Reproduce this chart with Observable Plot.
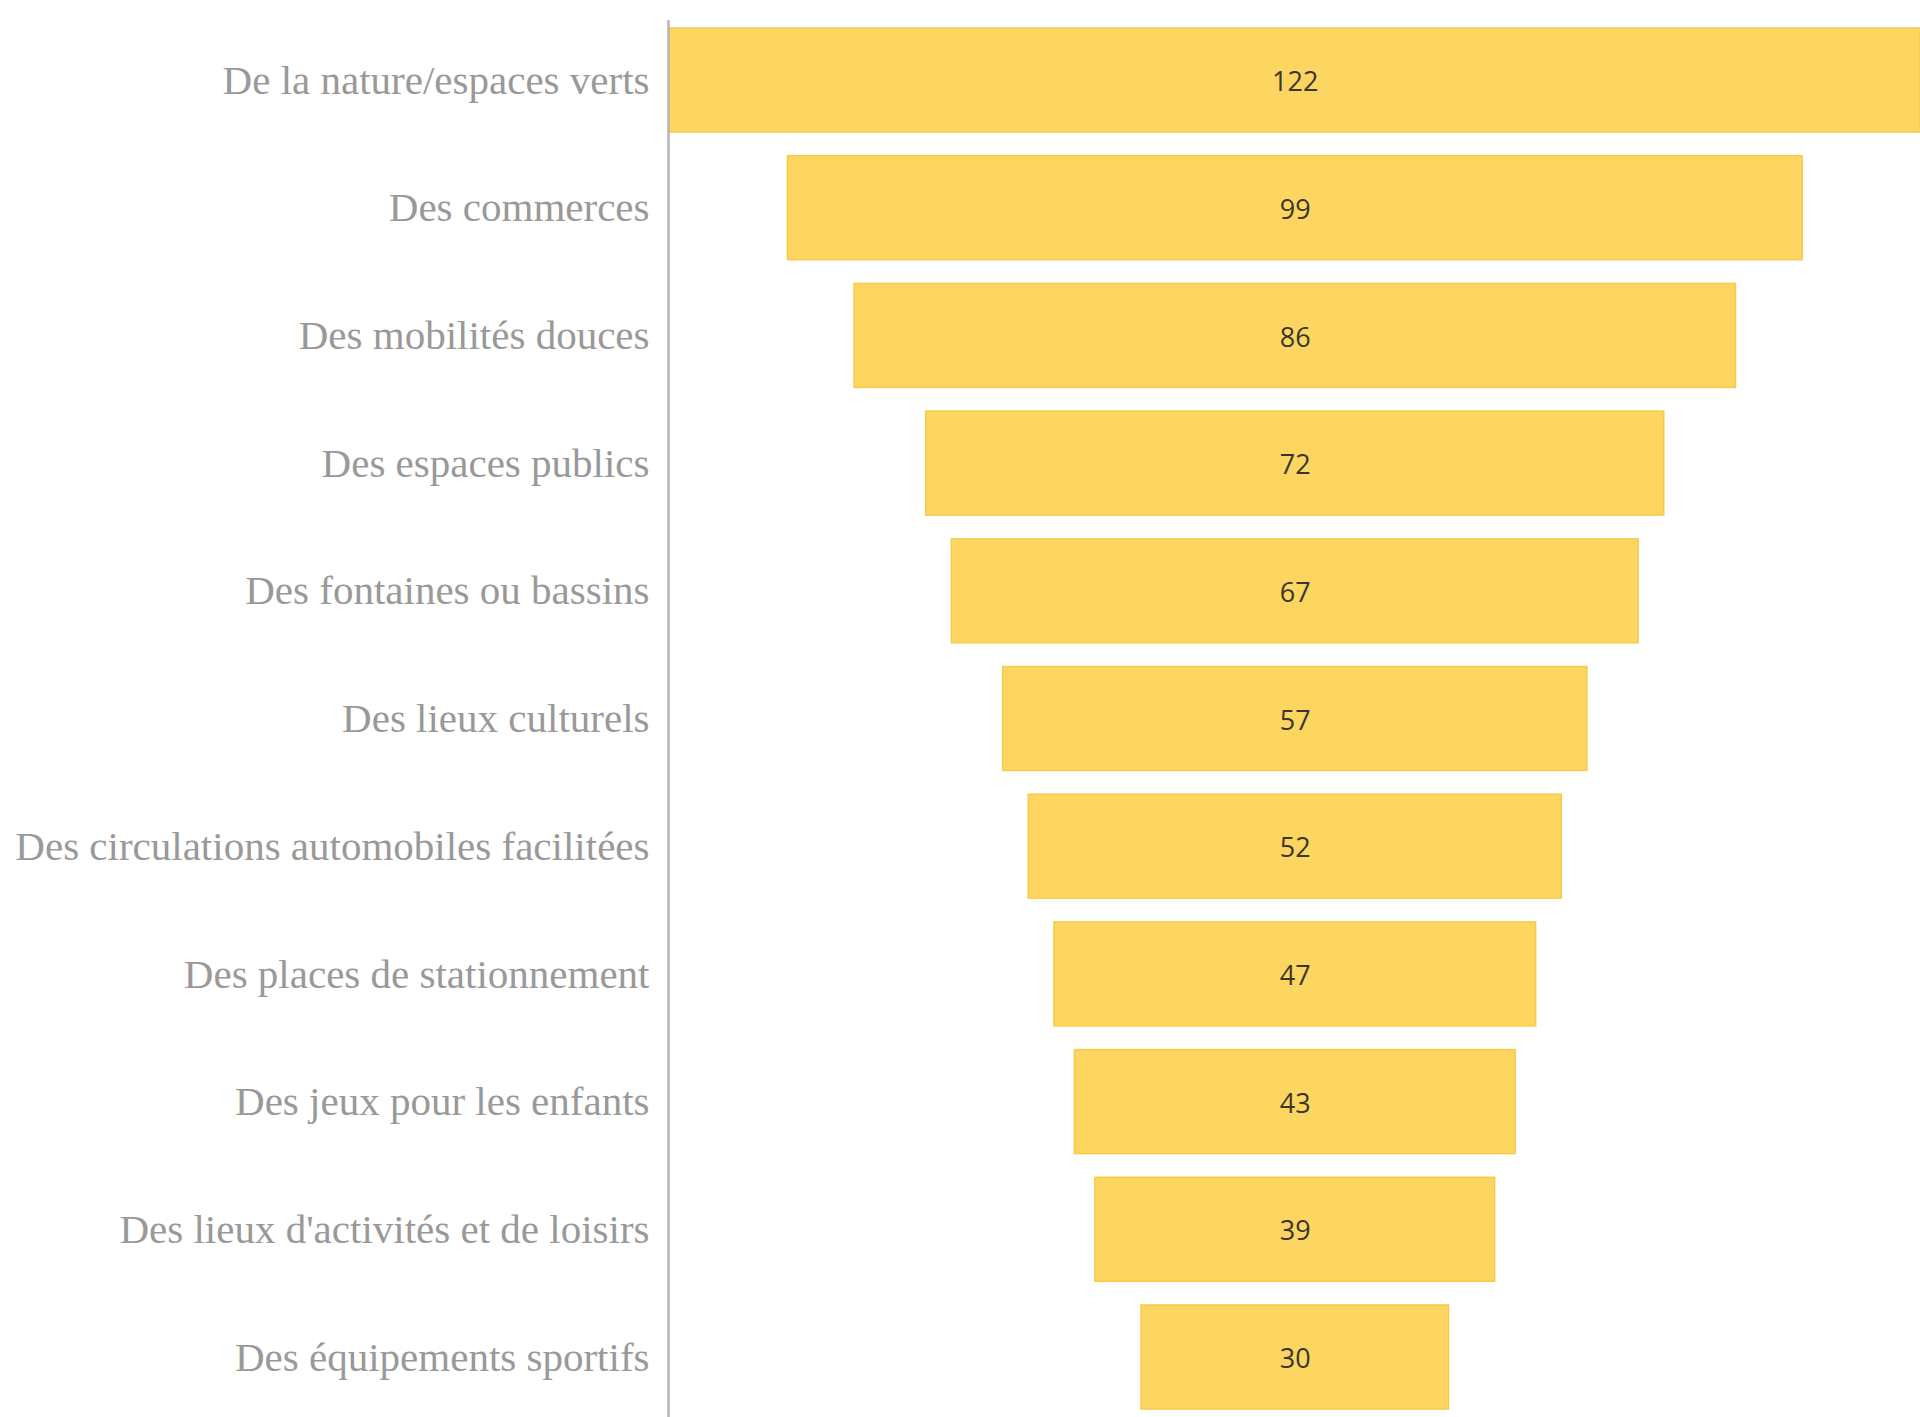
<!DOCTYPE html>
<html>
<head>
<meta charset="utf-8">
<script src="https://cdn.jsdelivr.net/npm/d3@7"></script>
<script src="https://cdn.jsdelivr.net/npm/@observablehq/plot@0.6"></script>
<style>
  html, body { margin: 0; padding: 0; background: #ffffff; }
  #chart svg { display: block; background: #ffffff; }
</style>
</head>
<body>
<div id="chart"></div>
<script>
const categories = [
  "De la nature/espaces verts",
  "Des commerces",
  "Des mobilités douces",
  "Des espaces publics",
  "Des fontaines ou bassins",
  "Des lieux culturels",
  "Des circulations automobiles facilitées",
  "Des places de stationnement",
  "Des jeux pour les enfants",
  "Des lieux d'activités et de loisirs",
  "Des équipements sportifs"
];
const values = [122, 99, 86, 72, 67, 57, 52, 47, 43, 39, 30];

const data = categories.map((c, i) => ({category: c, value: values[i]}));
const half = d3.max(values) / 2;

const chart = Plot.plot({
  width: 1920,
  height: 1417,
  marginTop: 20,
  marginBottom: 0,
  marginLeft: 668,
  marginRight: 0,
  x: {domain: [-half - 0.15, half], axis: null},
  y: {domain: categories, paddingInner: 0.186, paddingOuter: 0.063, round: false, axis: null},
  marks: [
    Plot.barX(data, {
      y: "category",
      x1: d => -d.value / 2,
      x2: d => d.value / 2,
      fill: "#fdd662",
      stroke: "#f6cb48",
      strokeWidth: 1.5
    }),
    Plot.ruleX([-half - 0.15], {stroke: "#b5b5b5", strokeWidth: 2.5}),
    Plot.axisY({
      label: null,
      tickSize: 0,
      tickPadding: 19,
      fontSize: 41,
      fontFamily: "Liberation Serif",
      fill: "#999999"
    }),
    Plot.text(data, {
      y: "category",
      x: 0,
      dy: 2,
      text: d => String(d.value),
      fontSize: 27,
      fontFamily: "Open Sans",
      fill: "#3a3628"
    })
  ]
});
document.getElementById("chart").appendChild(chart);
</script>
</body>
</html>
